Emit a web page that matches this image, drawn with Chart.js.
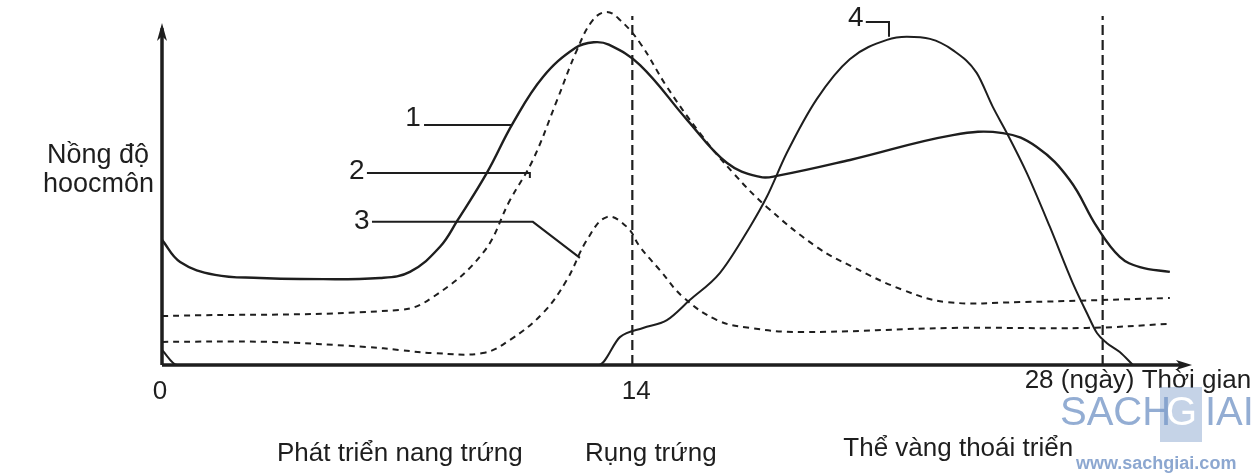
<!DOCTYPE html>
<html>
<head>
<meta charset="utf-8">
<script src="https://cdn.jsdelivr.net/npm/chart.js@4"></script>
<style>
  body { margin: 0; background: #fff; }
  #wrap { width: 1260px; height: 476px; }
</style>
</head>
<body>
<div id="wrap"><canvas id="hormoneChart" width="1260" height="476"></canvas></div>
<script>
// days along the cycle and hormone level (arbitrary units, 0-100 = axis height)
const days1 = [0, 0.54, 1.58, 2.92, 4.11, 6.49, 7.38, 8.27, 8.8, 9.67, 10.45, 11.34, 12.3, 12.85, 13.3, 14.23, 15.63, 16.82, 17.8, 18.3, 20.48, 23.54, 25.03, 26.04, 27.02, 27.83, 28.51, 29.11, 30.0];
const level1 = [36.8, 30.3, 26.5, 25.6, 25.3, 25.6, 27.4, 34.7, 42.6, 56.5, 71.2, 84.7, 93.2, 94.9, 94.2, 88.2, 72.1, 59.4, 55.3, 55.6, 60.3, 67.6, 68.2, 64.1, 54.4, 40.6, 31.8, 28.8, 27.4];

const days2 = [0, 7.08, 8.07, 9.55, 10.36, 11.04, 11.76, 12.35, 12.83, 13.24, 13.63, 14.23, 15.03, 16.01, 17.0, 18.0, 19.49, 20.57, 22.05, 23.36, 25.54, 30.0];
const level2 = [14.4, 16.2, 20.0, 32.9, 48.5, 60.3, 77.9, 92.6, 101.5, 103.8, 101.5, 94.7, 81.8, 68.2, 56.5, 46.5, 34.7, 28.8, 22.1, 18.5, 18.5, 19.7];

const days3 = [0, 3.13, 6.1, 7.08, 8.07, 9.55, 10.36, 11.34, 12.05, 12.65, 13.24, 13.84, 14.23, 14.82, 15.51, 16.52, 17.5, 18.99, 23.54, 27.53, 30.0];
const level3 = [6.8, 6.8, 5.3, 4.4, 3.5, 3.5, 7.4, 15.3, 25.0, 36.8, 43.5, 40.6, 34.7, 27.9, 20.0, 13.2, 10.9, 9.7, 10.9, 10.9, 12.1];

const days4 = [0, 0.45, 13.0, 13.63, 14.32, 15.03, 15.71, 16.61, 17.5, 18.0, 18.6, 19.49, 20.48, 21.58, 22.17, 22.86, 23.54, 24.25, 24.73, 25.15, 25.74, 26.43, 27.11, 27.53, 27.83, 28.12, 28.51, 28.9];
const level4 = [4.4, 0, 0, 8.2, 10.9, 13.2, 19.1, 27.1, 40.6, 49.4, 62.4, 78.2, 90.0, 95.6, 96.5, 95.9, 92.6, 85.9, 75.9, 68.2, 56.5, 40.6, 24.1, 15.3, 9.4, 6.5, 3.8, 0];

const markerDays = [14, 28];
const xTicks = [0, 14, 28];
const xTickLabels = ['0', '14', '28 (ngày) Thời gian'];
const phaseDays = [7.08, 14.55, 23.7];
const phaseLabels = ['Phát triển nang trứng', 'Rụng trứng', 'Thể vàng thoái triển'];
const curveNames = ['1', '2', '3', '4'];
const yTitle = ['Nồng độ', 'hoocmôn'];

const INK = '#1e1e1e';
const SANS = "'Liberation Sans', Arial, sans-serif";

function pts(xs, ys) {
  return xs.map((x, i) => ({ x: x, y: ys[i] }));
}

function curve(xs, ys, width, dash, mono) {
  return {
    data: pts(xs, ys),
    borderColor: INK,
    borderWidth: width,
    borderDash: dash,
    pointRadius: 0,
    fill: false,
    tension: 0.4,
    cubicInterpolationMode: mono ? 'monotone' : 'default',
    clip: false
  };
}

const markerSets = markerDays.map(d => ({
  data: [{ x: d, y: 0 }, { x: d, y: 102.6 }],
  borderColor: INK,
  borderWidth: 2.2,
  borderDash: [10, 5],
  pointRadius: 0,
  fill: false,
  clip: false
}));

// callout label position + leader line, in data units
const callouts = [
  { text: curveNames[0], at: [7.47, 72.6], path: [[7.8, 70.6], [10.42, 70.6]] },
  { text: curveNames[1], at: [5.8, 57.1], path: [[6.1, 56.5], [10.95, 56.5], [10.95, 55]] },
  { text: curveNames[2], at: [5.95, 42.4], path: [[6.25, 42.1], [11.04, 42.1], [12.44, 31.5]] },
  { text: curveNames[3], at: [20.65, 102], path: [[20.95, 100.9], [21.64, 100.9], [21.64, 96.5]] }
];

const decor = {
  id: 'decor',
  afterDatasetsDraw(chart) {
    const ctx = chart.ctx;
    const xs = chart.scales.x, ys = chart.scales.y;
    const X = v => xs.getPixelForValue(v);
    const Y = v => ys.getPixelForValue(v);
    ctx.save();
    ctx.strokeStyle = INK;
    ctx.fillStyle = INK;

    // axes with arrows
    ctx.lineWidth = 3.5;
    ctx.beginPath();
    ctx.moveTo(X(0), Y(0));
    ctx.lineTo(X(30.4), Y(0));
    ctx.moveTo(X(0), Y(0));
    ctx.lineTo(X(0), Y(99));
    ctx.stroke();
    ctx.beginPath();
    ctx.moveTo(X(30.6) + 2, Y(0));
    ctx.lineTo(X(30.6) - 14, Y(0) - 5);
    ctx.lineTo(X(30.6) - 10, Y(0));
    ctx.lineTo(X(30.6) - 14, Y(0) + 5);
    ctx.closePath();
    ctx.fill();
    ctx.beginPath();
    ctx.moveTo(X(0), Y(100) - 2);
    ctx.lineTo(X(0) - 5, Y(100) + 16);
    ctx.lineTo(X(0), Y(100) + 11);
    ctx.lineTo(X(0) + 5, Y(100) + 16);
    ctx.closePath();
    ctx.fill();

    // callouts
    ctx.lineWidth = 2;
    ctx.font = '28px ' + SANS;
    ctx.textAlign = 'center';
    ctx.textBaseline = 'middle';
    callouts.forEach(c => {
      ctx.fillText(c.text, X(c.at[0]), Y(c.at[1]));
      ctx.beginPath();
      c.path.forEach((p, i) => {
        if (i === 0) ctx.moveTo(X(p[0]), Y(p[1]));
        else ctx.lineTo(X(p[0]), Y(p[1]));
      });
      ctx.stroke();
    });

    // y title
    ctx.font = '27px ' + SANS;
    ctx.textAlign = 'right';
    ctx.fillText(yTitle[0], X(0) - 13, Y(0) - 209);
    ctx.fillText(yTitle[1], X(0) - 8, Y(0) - 180);

    // x tick labels
    ctx.font = '26px ' + SANS;
    xTicks.forEach((t, i) => {
      if (i === xTicks.length - 1) {
        ctx.textAlign = 'left';
        ctx.fillText(xTickLabels[i], X(t) - 78, Y(0) + 16);
      } else {
        ctx.textAlign = 'center';
        ctx.fillText(xTickLabels[i], X(t) - 2 + (i === 1 ? 6 : 0), Y(0) + 27);
      }
    });

    // phase labels
    ctx.textAlign = 'center';
    phaseLabels.forEach((lab, i) => {
      ctx.fillText(lab, X(phaseDays[i]), Y(0) + (i === 2 ? 84 : 89));
    });

    // watermark
    ctx.fillStyle = 'rgba(150,175,212,0.55)';
    ctx.fillRect(1160, 387, 42, 55);
    ctx.fillStyle = 'rgba(120,152,200,0.8)';
    ctx.font = '40px ' + SANS;
    ctx.textAlign = 'left';
    ctx.fillText('SACH', 1060, 414);
    ctx.fillText('IAI', 1205, 414);
    ctx.fillStyle = '#fff';
    ctx.fillText('G', 1166, 414);
    ctx.fillStyle = 'rgba(120,152,200,0.85)';
    ctx.font = 'bold 18px ' + SANS;
    ctx.fillText('www.sachgiai.com', 1076, 464);
    ctx.restore();
  }
};

new Chart(document.getElementById('hormoneChart').getContext('2d'), {
  type: 'line',
  data: {
    datasets: [
      curve(days1, level1, 2.4, [], false),
      curve(days2, level2, 2, [6, 5], false),
      curve(days3, level3, 2, [6, 5], false),
      curve(days4, level4, 2, [], true),
      ...markerSets
    ]
  },
  options: {
    responsive: false,
    devicePixelRatio: 1,
    animation: false,
    layout: { padding: { left: 162, right: 70, top: 10, bottom: 111 } },
    plugins: { legend: { display: false }, tooltip: { enabled: false } },
    scales: {
      x: { type: 'linear', min: 0, max: 30.6, display: false },
      y: { type: 'linear', min: 0, max: 104.4, display: false }
    }
  },
  plugins: [decor]
});
</script>
</body>
</html>
